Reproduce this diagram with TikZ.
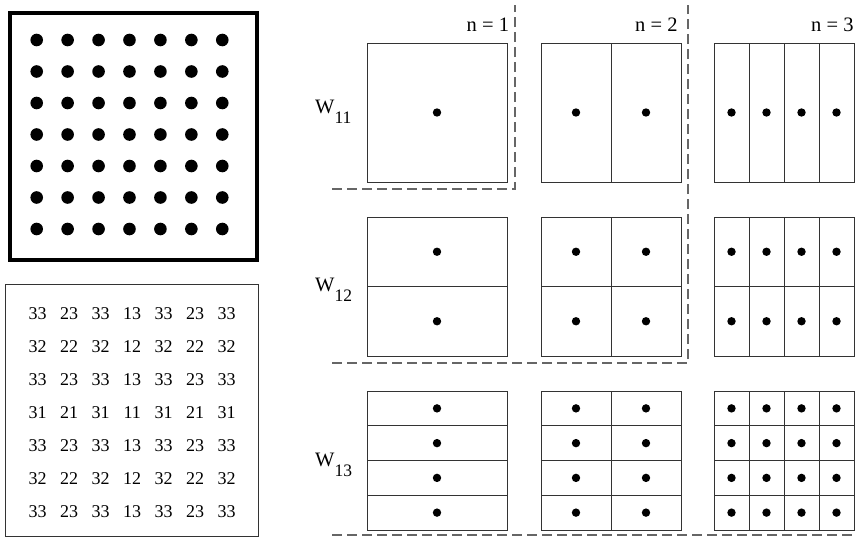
\documentclass[tikz,border=0pt]{standalone}
\usepackage{fontspec}
\setmainfont{Liberation Serif}
\begin{document}
\begin{tikzpicture}[x=1pt,y=-1pt,
  cell/.style={draw=black!80, line width=1pt},
  sep/.style={draw=black!60, line width=1.4pt, dash pattern=on 10pt off 5pt},
  num/.style={font=\fontsize{18}{20}\selectfont, inner sep=0pt},
  lab/.style={font=\fontsize{20.5}{24}\selectfont, inner sep=0pt}]
\useasboundingbox (0,0) rectangle (856,538);
% top-left thick square with dots
\draw[line width=4pt] (9.5,13) rectangle (257,259.5);
\foreach \i in {0,...,6} \foreach \j in {0,...,6}
  \fill (36.7+30.93*\i, 40+31.5*\j) circle (6.3);
% bottom-left numbers box
\draw[cell] (5.7,284) rectangle (258,536);
\foreach \row [count=\r from 0] in {
  {33,23,33,13,33,23,33},
  {32,22,32,12,32,22,32},
  {33,23,33,13,33,23,33},
  {31,21,31,11,31,21,31},
  {33,23,33,13,33,23,33},
  {32,22,32,12,32,22,32},
  {33,23,33,13,33,23,33}} {
  \foreach \v [count=\c from 0] in \row
    \node[num] (t\r\c) at (37.7+31.5*\c, 314+33*\r) {\v};
}
% right grids
\foreach \cx/\nx in {367/1, 541/2, 714/4} {
  \foreach \cy/\ny in {43/1, 217/2, 391/4} {
    \draw[cell] (\cx,\cy) rectangle ++(140,139);
    \foreach \k in {1,...,\nx} {
      \draw[cell] ({\cx+\k*140/\nx},\cy) -- ++(0,139);
    }
    \foreach \m in {1,...,\ny} {
      \draw[cell] (\cx,{\cy+\m*139/\ny}) -- ++(140,0);
    }
    \foreach \k in {1,...,\nx} \foreach \m in {1,...,\ny}
      \fill ({\cx+(\k-0.5)*140/\nx},{\cy+(\m-0.5)*139/\ny}) circle (4.2);
  }
}
% dashed separators
\draw[sep] (332,189) -- (515,189) -- (515,5);
\draw[sep] (332,363) -- (688,363) -- (688,5);
\draw[sep] (332,535) -- (856,535);
% labels
\node[lab, anchor=base west] (n1) at (466.5,31.7) {n = 1};
\node[lab, anchor=base west] (n2) at (635,31.7) {n = 2};
\node[lab, anchor=base west] (n3) at (811,31.7) {n = 3};
\node[lab, anchor=base west] (w11) at (315,113) {W\raisebox{-10pt}{\fontsize{17.5}{17}\selectfont 11}};
\node[lab, anchor=base west] (w12) at (315,291.5) {W\raisebox{-10pt}{\fontsize{17.5}{17}\selectfont 12}};
\node[lab, anchor=base west] (w13) at (315,466) {W\raisebox{-10pt}{\fontsize{17.5}{17}\selectfont 13}};
\end{tikzpicture}
\end{document}
